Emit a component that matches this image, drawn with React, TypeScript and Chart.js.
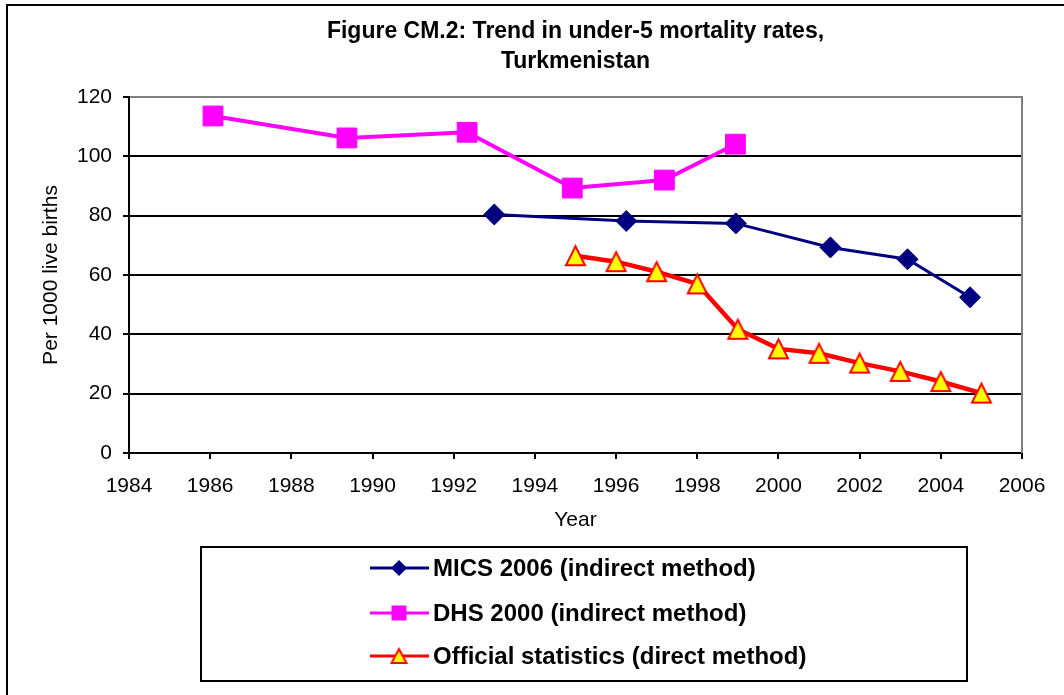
import React, { useEffect, useRef } from 'react';
import { Chart, registerables } from 'chart.js';

Chart.register(...registerables);

// ---------- data ----------
const titleLines = ['Figure CM.2: Trend in under-5 mortality rates,', 'Turkmenistan'];
const xAxisTitle = 'Year';
const yAxisTitle = 'Per 1000 live births';

const xMin = 1984;
const xMax = 2006;
const xStep = 2;
const yMin = 0;
const yMax = 120;
const yStep = 20;

const seriesNames = [
  'MICS 2006 (indirect method)',
  'DHS 2000 (indirect method)',
  'Official statistics (direct method)',
];

const micsYears = [1993.0, 1996.25, 1998.95, 2001.28, 2003.18, 2004.72];
const micsValues = [80.4, 78.2, 77.4, 69.3, 65.3, 52.5];

const dhsYears = [1986.07, 1989.37, 1992.33, 1994.92, 1997.19, 1998.94];
const dhsValues = [113.6, 106.2, 108.1, 89.3, 92.0, 104.1];

const officialYears = [1995, 1996, 1997, 1998, 1999, 2000, 2001, 2002, 2003, 2004, 2005];
const officialValues = [66.5, 64.5, 61.1, 57.0, 41.7, 35.1, 33.6, 30.3, 27.5, 24.1, 20.2];

// ---------- styles ----------
const FONT = "'Liberation Sans', Arial, Helvetica, sans-serif";
const NAVY = '#000080';
const MAGENTA = '#FF00FF';
const RED = '#FF0000';
const YELLOW = '#FFFF00';

function makeTriangle(w: number, h: number, lw: number): HTMLCanvasElement {
  const pad = Math.ceil(lw) + 1;
  const c = document.createElement('canvas');
  c.width = w + pad * 2;
  c.height = h + pad * 2;
  const g = c.getContext('2d')!;
  g.beginPath();
  g.moveTo(pad + w / 2, pad);
  g.lineTo(pad + w, pad + h);
  g.lineTo(pad, pad + h);
  g.closePath();
  g.fillStyle = YELLOW;
  g.fill();
  g.lineWidth = lw;
  g.lineJoin = 'miter';
  g.strokeStyle = RED;
  g.stroke();
  return c;
}

function toPoints(xs: number[], ys: number[]) {
  return xs.map((x, i) => ({ x, y: ys[i] }));
}

export default function App() {
  const canvasRef = useRef<HTMLCanvasElement | null>(null);

  useEffect(() => {
    const canvas = canvasRef.current;
    if (!canvas) return;

    const triBig = makeTriangle(19, 19, 2);
    const triSmall = makeTriangle(15, 14, 2);

    const framePlugin = {
      id: 'framePlugin',
      beforeDraw(chart: any) {
        const ctx = chart.ctx;
        ctx.save();
        ctx.fillStyle = '#ffffff';
        ctx.fillRect(0, 0, chart.width, chart.height);
        ctx.strokeStyle = '#000';
        ctx.lineWidth = 2;
        ctx.strokeRect(7, 5, chart.width + 50, chart.height + 50);
        ctx.restore();
      },
      beforeDatasetsDraw(chart: any) {
        const { ctx, chartArea } = chart;
        ctx.save();
        ctx.strokeStyle = '#808080';
        ctx.lineWidth = 2;
        ctx.beginPath();
        ctx.moveTo(Math.round(chartArea.right), chartArea.top - 1);
        ctx.lineTo(Math.round(chartArea.right), chartArea.bottom);
        ctx.stroke();
        ctx.restore();
      },
      afterDraw(chart: any) {
        const ctx = chart.ctx;
        ctx.save();
        // legend box
        ctx.strokeStyle = '#000';
        ctx.lineWidth = 2;
        ctx.strokeRect(201, 547, 766, 134);
        const rows = [568, 613, 656];
        const lineX0 = 370;
        const lineX1 = 429;
        const markX = 399;
        chart.data.datasets.forEach((ds: any, i: number) => {
          const y = rows[i];
          ctx.strokeStyle = ds.borderColor;
          ctx.lineWidth = 3;
          ctx.beginPath();
          ctx.moveTo(lineX0, y);
          ctx.lineTo(lineX1, y);
          ctx.stroke();
          if (i === 0) {
            const r = 8;
            ctx.beginPath();
            ctx.moveTo(markX - r, y);
            ctx.lineTo(markX, y - r);
            ctx.lineTo(markX + r, y);
            ctx.lineTo(markX, y + r);
            ctx.closePath();
            ctx.fillStyle = NAVY;
            ctx.fill();
          } else if (i === 1) {
            ctx.fillStyle = MAGENTA;
            ctx.fillRect(markX - 7.5, y - 7.5, 15, 15);
          } else {
            ctx.drawImage(triSmall, markX - triSmall.width / 2, y - triSmall.height / 2);
          }
          ctx.fillStyle = '#000';
          ctx.font = `bold 24px ${FONT}`;
          ctx.textBaseline = 'middle';
          ctx.textAlign = 'left';
          ctx.fillText(ds.label, 433, y + 1);
        });
        ctx.restore();
      },
    };

    const chart = new Chart(canvas, {
      type: 'line',
      data: {
        datasets: [
          {
            label: seriesNames[0],
            data: toPoints(micsYears, micsValues),
            borderColor: NAVY,
            backgroundColor: NAVY,
            borderWidth: 3,
            pointStyle: 'rectRot',
            pointRadius: 10.5,
            pointBackgroundColor: NAVY,
            pointBorderColor: NAVY,
            pointBorderWidth: 1,
            tension: 0,
          },
          {
            label: seriesNames[1],
            data: toPoints(dhsYears, dhsValues),
            borderColor: MAGENTA,
            backgroundColor: MAGENTA,
            borderWidth: 4,
            pointStyle: 'rect',
            pointRadius: 14,
            pointBackgroundColor: MAGENTA,
            pointBorderColor: MAGENTA,
            pointBorderWidth: 1,
            tension: 0,
          },
          {
            label: seriesNames[2],
            data: toPoints(officialYears, officialValues),
            borderColor: RED,
            backgroundColor: YELLOW,
            borderWidth: 4.5,
            pointStyle: triBig as any,
            pointRadius: 10,
            tension: 0,
          },
        ],
      },
      options: {
        responsive: false,
        animation: false,
        events: [],
        layout: { padding: { left: 0, right: 42, top: 0, bottom: 158 } },
        plugins: {
          legend: { display: false },
          tooltip: { enabled: false },
          title: {
            display: true,
            text: titleLines,
            fullSize: false,
            color: '#000',
            font: { family: FONT, size: 23, weight: 'bold', lineHeight: '30px' as any },
            padding: { top: 17, bottom: 20 },
          },
        },
        scales: {
          x: {
            type: 'linear',
            min: xMin,
            max: xMax,
            afterFit(scale: any) {
              scale.height = 84;
            },
            ticks: {
              stepSize: xStep,
              autoSkip: false,
              maxRotation: 0,
              padding: 15,
              color: '#000',
              font: { family: FONT, size: 21 },
              callback: (v: any) => String(v),
            },
            grid: {
              drawOnChartArea: false,
              drawTicks: true,
              tickLength: 6,
              tickColor: '#000',
              lineWidth: 2,
            },
            border: { color: '#000', width: 2 },
            title: {
              display: true,
              text: xAxisTitle,
              color: '#000',
              font: { family: FONT, size: 21 },
              padding: { top: 0, bottom: 4 },
            },
          },
          y: {
            type: 'linear',
            min: yMin,
            max: yMax,
            afterFit(scale: any) {
              scale.width = 129;
            },
            ticks: {
              stepSize: yStep,
              padding: 11,
              color: '#000',
              font: { family: FONT, size: 21 },
              callback: (v: any) => String(v),
            },
            grid: {
              color: (c: any) => (c.tick && c.tick.value === yMax ? '#808080' : '#000'),
              tickColor: '#000',
              tickLength: 6,
              lineWidth: 2,
            },
            border: { color: '#000', width: 2 },
            title: {
              display: true,
              text: yAxisTitle,
              color: '#000',
              font: { family: FONT, size: 21 },
              padding: { top: 39, bottom: 0 },
            },
          },
        },
      },
      plugins: [framePlugin],
    });

    return () => {
      chart.destroy();
    };
  }, []);

  return (
    <div style={{ position: 'fixed', left: 0, top: 0, width: 1064, height: 695, background: '#fff' }}>
      <canvas ref={canvasRef} width={1064} height={695} style={{ display: 'block', width: 1064, height: 695 }} />
    </div>
  );
}
